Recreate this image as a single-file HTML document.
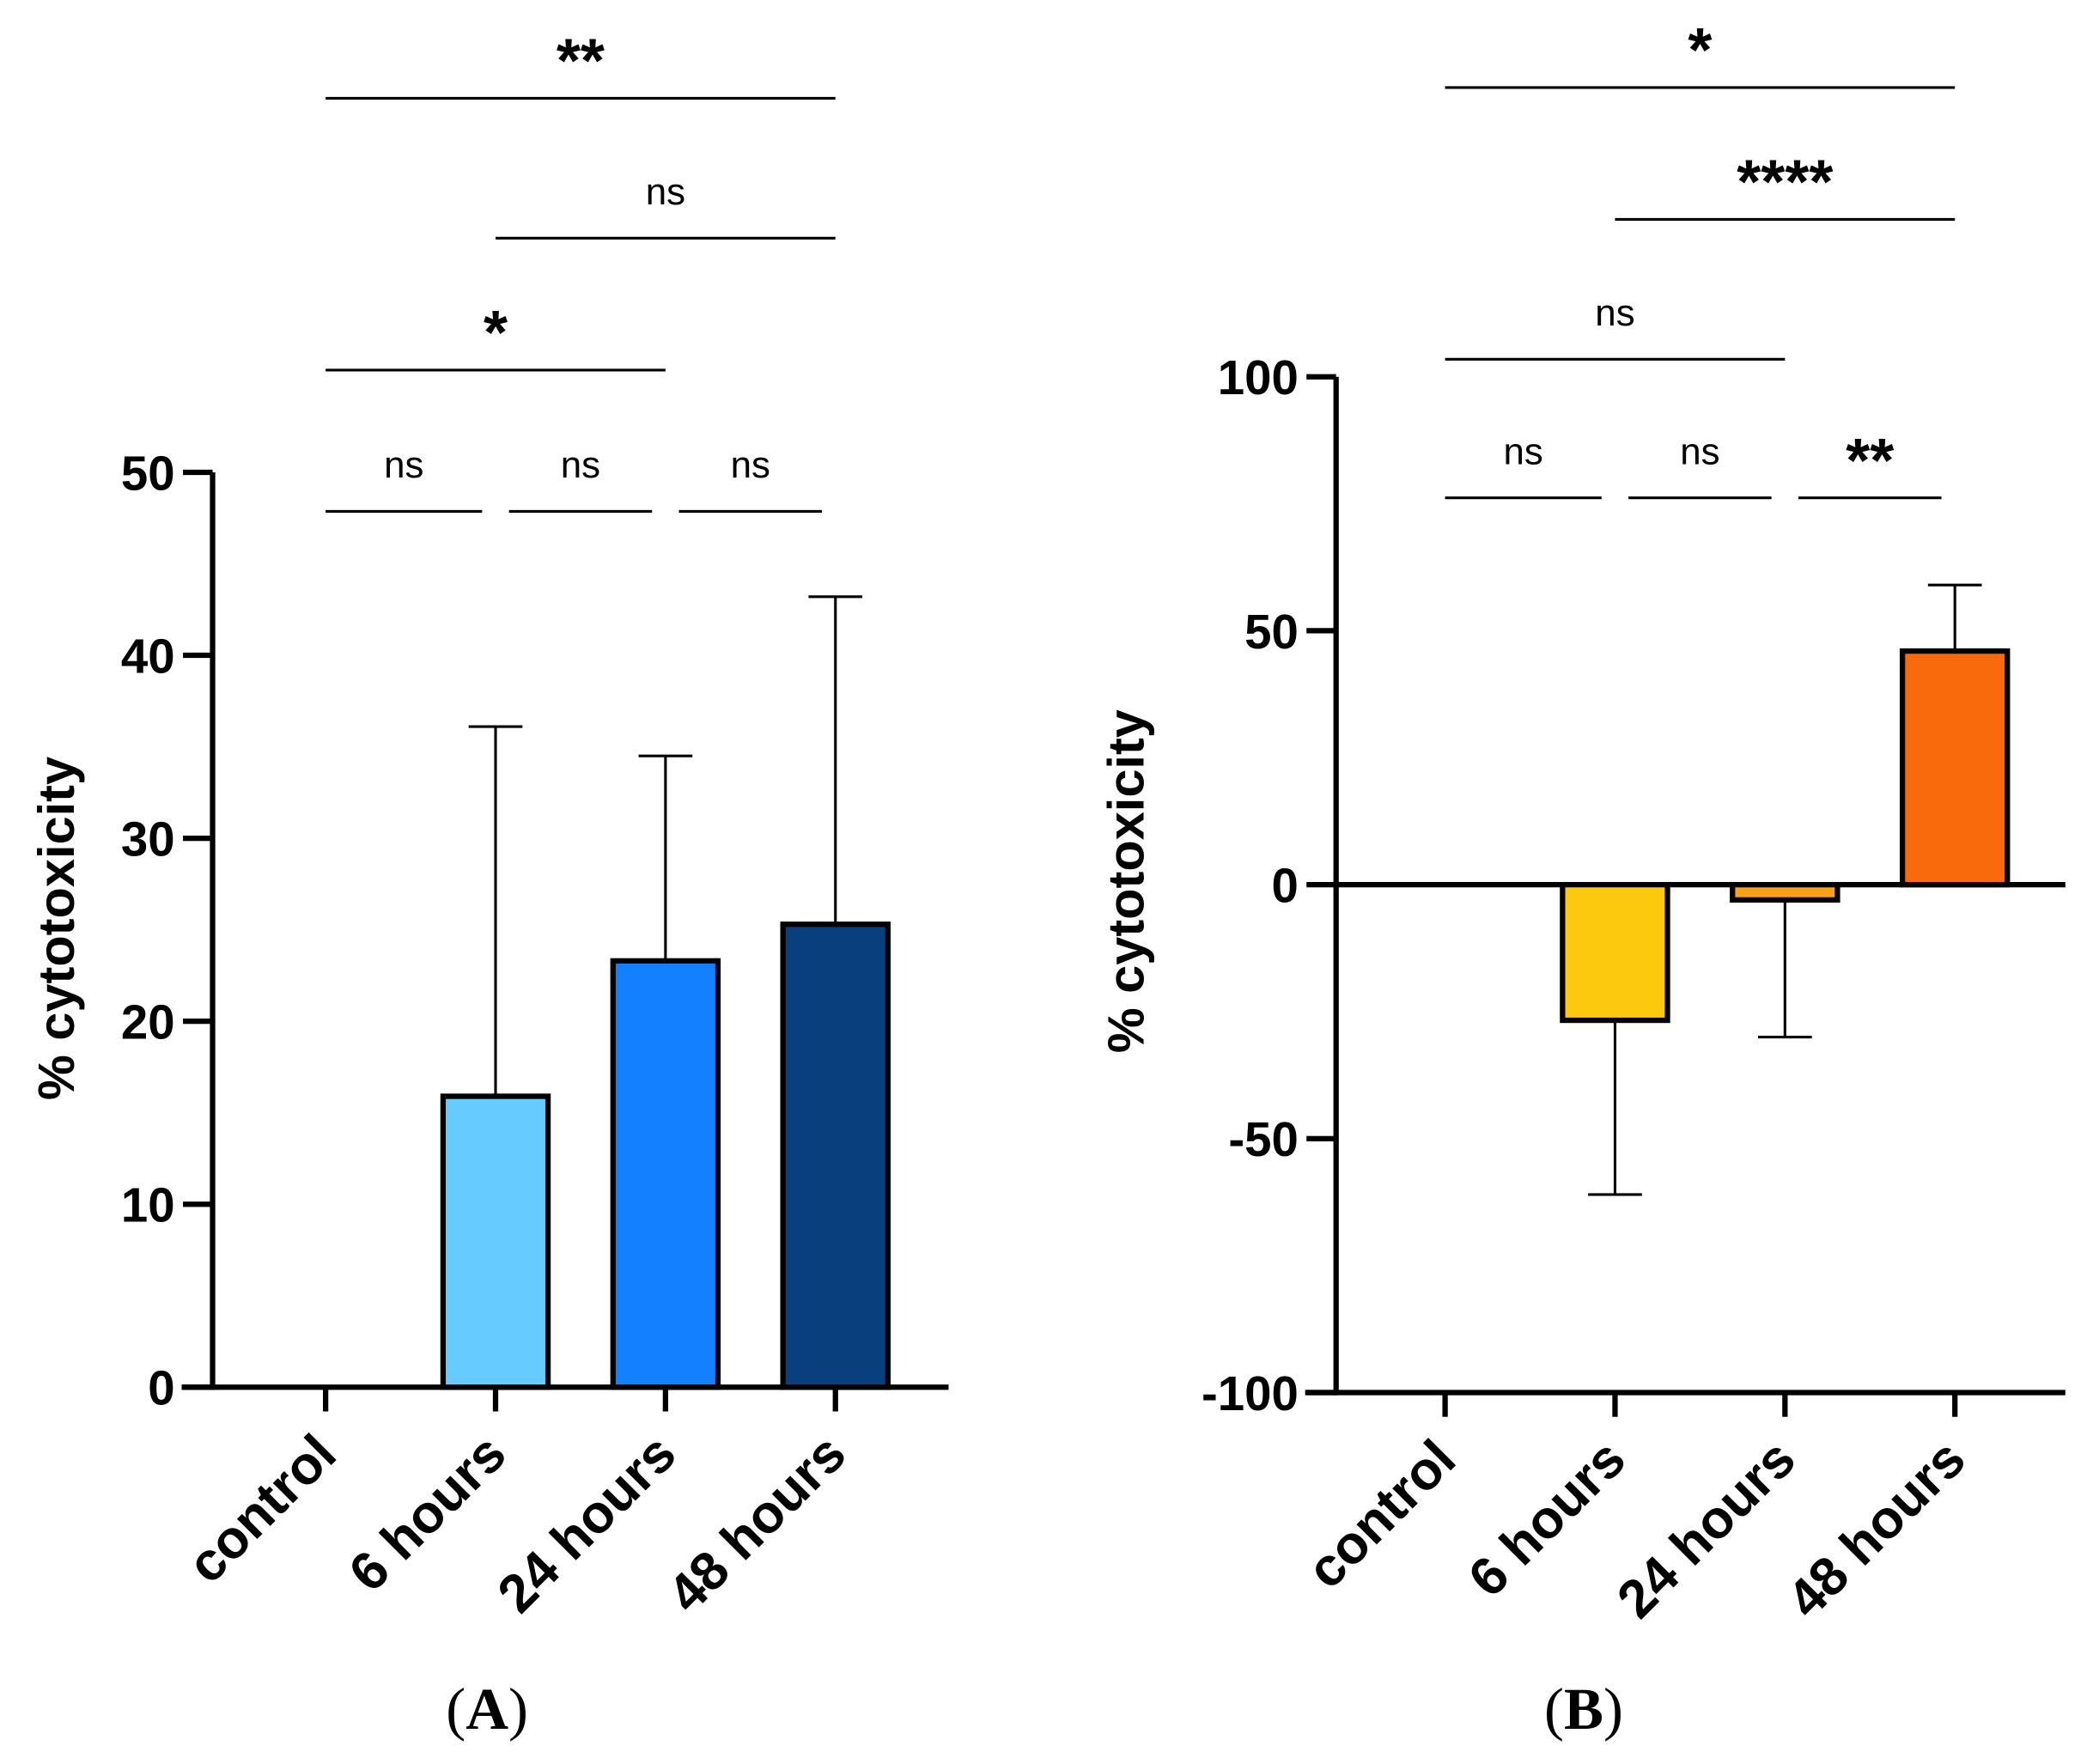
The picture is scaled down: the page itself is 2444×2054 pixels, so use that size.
<!DOCTYPE html>
<html><head><meta charset="utf-8"><style>
html,body{margin:0;padding:0;background:#fff;}
svg{display:block;font-family:"Liberation Sans",sans-serif;}
</style></head><body>
<svg id="chart" width="2444" height="2054" viewBox="0 0 1560 1311" xmlns="http://www.w3.org/2000/svg">
<g id="pA"></g>
<g id="pB"></g>
<text x="362" y="1285" text-anchor="middle" font-family="Liberation Serif,serif" font-size="44">(<tspan font-weight="bold">A</tspan>)</text>
<text x="1177" y="1285" text-anchor="middle" font-family="Liberation Serif,serif" font-size="44">(<tspan font-weight="bold">B</tspan>)</text>
</svg>
<script>
const categories = ["control","6 hours","24 hours","48 hours"];
const valuesA = [0, 15.9, 23.3, 25.3];
const errorsA = [0, 36.1, 34.5, 43.2];
const colorsA = [null, "#66ccff", "#1380ff", "#0a3f7e"];
const ticksA = [0,10,20,30,40,50];
const valuesB = [0, -26.7, -3, 46];
const errorsB = [0, -61, -30, 59];
const colorsB = [null, "#fcc90f", "#f9a11b", "#f96a0c"];
const ticksB = [-100,-50,0,50,100];
const bracketsA = [[0,1,"ns",380],[1,2,"ns",380],[2,3,"ns",380],[0,2,"*",275],[1,3,"ns",177],[0,3,"**",73]];
const bracketsB = [[0,1,"ns",370],[1,2,"ns",370],[2,3,"**",370],[0,2,"ns",267],[1,3,"****",163],[0,3,"*",65]];

const NS="http://www.w3.org/2000/svg";
function mk(parent,tag,attrs,txt){const e=document.createElementNS(NS,tag);for(const k in attrs)e.setAttribute(k,attrs[k]);if(txt!==undefined)e.textContent=txt;parent.appendChild(e);return e;}

function panel(g,cfg){
  const y=v=>cfg.y0-(v-cfg.vmin)*(cfg.y0-cfg.y1)/(cfg.vmax-cfg.vmin);
  const x=i=>cfg.x0+i*cfg.step;
  let a=mk(g,"line",{x1:cfg.ax,y1:y(cfg.vmax),x2:cfg.ax,y2:y(cfg.vmin)+2,stroke:"#000","stroke-width":4});
  
  
  let xa=mk(g,"line",{x1:cfg.xl,y1:y(cfg.vmin),x2:cfg.xr,y2:y(cfg.vmin),stroke:"#000","stroke-width":4});
  
  
  if(cfg.zero){let z=mk(g,"line",{x1:cfg.ax,y1:y(0),x2:cfg.xr,y2:y(0),stroke:"#000","stroke-width":4});
    
    }
  cfg.ticks.forEach(t=>{
    let l=mk(g,"line",{x1:cfg.ax-22,y1:y(t),x2:cfg.ax,y2:y(t),stroke:"#000","stroke-width":4});
    
    
    let tx=mk(g,"text",{x:cfg.ax-28,y:y(t)+13,"text-anchor":"end","font-size":36,"font-weight":"bold"},t);
    
    
  });
  let yt=mk(g,"text",{transform:`translate(${cfg.titleX},${cfg.titleY}) rotate(-90)`,"text-anchor":"middle","font-size":38,"font-weight":"bold"},"% cytotoxicity");
  
  
  categories.forEach((c,i)=>{
    const cx=x(i), base=y(cfg.vmin);
    let tk=mk(g,"line",{x1:cx,y1:base,x2:cx,y2:base+18,stroke:"#000","stroke-width":4});
    
    
    let lb=mk(g,"text",{transform:`translate(${cx+10},${base+52}) rotate(-45)`,"text-anchor":"end","font-size":40,"font-weight":"bold"},c);
    
    
    const v=cfg.values[i];
    if(cfg.colors[i]){
      const e=cfg.errors[i];
      let el=mk(g,"line",{x1:cx,y1:y(v),x2:cx,y2:y(e),stroke:"#000","stroke-width":2});
      
      
      let cap=mk(g,"line",{x1:cx-20,y1:y(e),x2:cx+20,y2:y(e),stroke:"#000","stroke-width":2});
      
      
      const top=Math.min(y(v),y(0)),h=Math.abs(y(v)-y(0));
      let r=mk(g,"rect",{x:cx-39,y:top,width:78,height:h,fill:cfg.colors[i],stroke:"#000","stroke-width":4});
      
      
    }
  });
  cfg.brackets.forEach(([i,j,lab,by])=>{
    const x2=x(j)-(j-i===1?10:0),xs=x(i)+(j-i===1&&i>0?10:0);
    let bl=mk(g,"line",{x1:xs,y1:by,x2:x2,y2:by,stroke:"#000","stroke-width":2});
    
    
    const star=lab!=="ns";
    let bt=mk(g,"text",{x:(xs+x2)/2,y:star?by-12:by-25,"text-anchor":"middle","font-size":star?46:28,"font-weight":star?"bold":"normal"},lab);
    
    
  });
}
panel(document.getElementById("pA"),{vmin:0,vmax:50,y0:1031,y1:351,ax:158,xl:135,xr:705,x0:242,step:126.3,
  values:valuesA,errors:errorsA,colors:colorsA,ticks:ticksA,brackets:bracketsA,titleX:55,titleY:690,zero:false});
panel(document.getElementById("pB"),{vmin:-100,vmax:100,y0:1035,y1:280,ax:993,xl:970,xr:1535,x0:1074,step:126.3,
  values:valuesB,errors:errorsB,colors:colorsB,ticks:ticksB,brackets:bracketsB,titleX:850,titleY:655,zero:true});
</script>
</body></html>
